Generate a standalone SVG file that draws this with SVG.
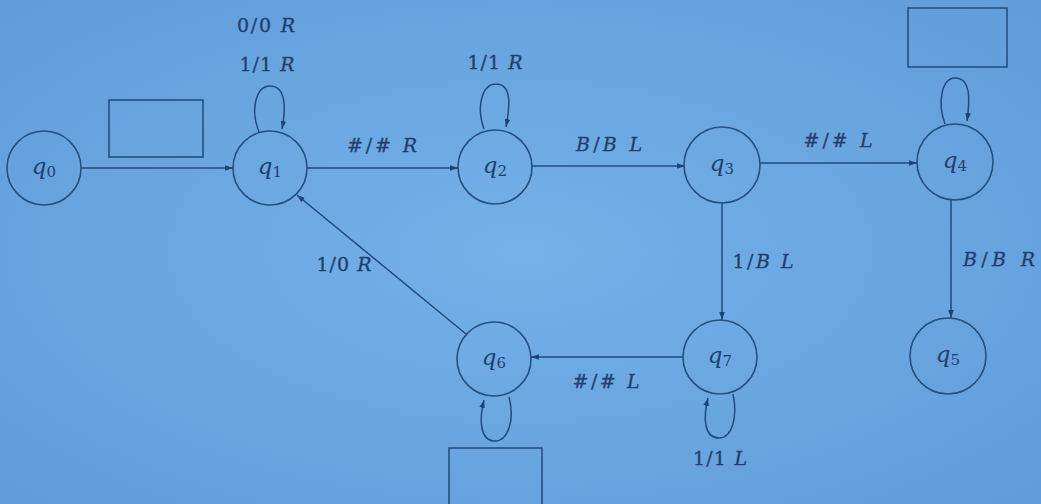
<svg xmlns="http://www.w3.org/2000/svg" width="1041" height="504" viewBox="0 0 1041 504">
<defs>
<radialGradient id="bg" cx="0.5" cy="0.5" r="0.75">
<stop offset="0" stop-color="#74b1e9"/>
<stop offset="1" stop-color="#5f9cd8"/>
</radialGradient>
<marker id="ah" viewBox="0 0 10 10" refX="10" refY="5" markerWidth="8" markerHeight="8" markerUnits="userSpaceOnUse" orient="auto">
<path d="M0,1.5 L10,5 L0,8.5 Z" fill="#1d4478"/>
</marker>
<style>
.st{fill:none;stroke:#24507f;stroke-width:1.6}
.ed{fill:none;stroke:#1f4a7e;stroke-width:1.5;marker-end:url(#ah)}
.bx{fill:none;stroke:#24507f;stroke-width:1.6}
.nl{font-family:"DejaVu Serif","Liberation Serif",serif;font-style:italic;font-size:23px;fill:#1f3f70;text-anchor:middle}
.nl tspan.s{font-style:normal;font-size:15px}
.lb{font-family:"DejaVu Serif","Liberation Serif",serif;font-size:19px;fill:#1f3f70;stroke:#1f3f70;stroke-width:0.3;text-anchor:middle}
.lb tspan.i{font-style:italic}
</style>
</defs>
<rect width="1041" height="504" fill="url(#bg)"/>
<g id="connectors">
<line class="ed" x1="81" y1="168" x2="233" y2="168"/>
<line class="ed" x1="307" y1="168" x2="458" y2="168"/>
<line class="ed" x1="532" y1="166" x2="685" y2="166"/>
<line class="ed" x1="760" y1="163" x2="917" y2="163"/>
<line class="ed" x1="722" y1="203" x2="722" y2="320"/>
<line class="ed" x1="951" y1="200" x2="951" y2="318"/>
<line class="ed" x1="683" y1="357" x2="531" y2="357"/>
<line class="ed" x1="466" y1="334" x2="297" y2="195"/>
<path class="ed" d="M259,132 C250,110 256,86 270,86 C286,86 286,108 282,129"/>
<path class="ed" d="M484,129 C476,107 482,84 496,84 C512,84 510,106 506,127"/>
<path class="ed" d="M945,124 C937,102 942,78 955,78 C971,78 970,100 967,121"/>
<path class="ed" d="M509,397 C515,420 508,441 495,441 C480,441 479,420 484,400"/>
<path class="ed" d="M733,394 C738,417 732,438 719,438 C704,438 703,418 708,398"/>
<text class="lb" x="266" y="32" textLength="58" lengthAdjust="spacing">0/0 <tspan class="i">R</tspan></text>
<text class="lb" x="267" y="71" textLength="55" lengthAdjust="spacing">1/1 <tspan class="i">R</tspan></text>
<text class="lb" x="382" y="152" textLength="70" lengthAdjust="spacing">#/# <tspan class="i">R</tspan></text>
<text class="lb" x="495" y="69" textLength="55" lengthAdjust="spacing">1/1 <tspan class="i">R</tspan></text>
<text class="lb" x="609" y="151" textLength="66" lengthAdjust="spacing"><tspan class="i">B</tspan>/<tspan class="i">B L</tspan></text>
<text class="lb" x="838" y="147" textLength="69" lengthAdjust="spacing">#/# <tspan class="i">L</tspan></text>
<text class="lb" x="763" y="268" textLength="61" lengthAdjust="spacing">1/<tspan class="i">B L</tspan></text>
<text class="lb" x="999" y="266" textLength="72" lengthAdjust="spacing"><tspan class="i">B</tspan>/<tspan class="i">B R</tspan></text>
<text class="lb" x="344" y="271" textLength="55" lengthAdjust="spacing">1/0 <tspan class="i">R</tspan></text>
<text class="lb" x="606" y="388" textLength="67" lengthAdjust="spacing">#/# <tspan class="i">L</tspan></text>
<text class="lb" x="720" y="465" textLength="54" lengthAdjust="spacing">1/1 <tspan class="i">L</tspan></text>
<rect class="bx" x="109" y="100" width="94" height="57"/>
<rect class="bx" x="908" y="8" width="99" height="59"/>
<rect class="bx" x="449" y="448" width="93" height="60"/>
</g>
<g id="q0"><circle class="st" cx="44" cy="168" r="37"/><text class="nl" x="44" y="174">q<tspan class="s" dy="3">0</tspan></text></g>
<g id="q1"><circle class="st" cx="270" cy="168" r="37"/><text class="nl" x="270" y="174">q<tspan class="s" dy="3">1</tspan></text></g>
<g id="q2"><circle class="st" cx="495" cy="167" r="37"/><text class="nl" x="495" y="173">q<tspan class="s" dy="3">2</tspan></text></g>
<g id="q3"><circle class="st" cx="722" cy="165" r="38"/><text class="nl" x="722" y="171">q<tspan class="s" dy="3">3</tspan></text></g>
<g id="q4"><circle class="st" cx="955" cy="162" r="38"/><text class="nl" x="955" y="168">q<tspan class="s" dy="3">4</tspan></text></g>
<g id="q5"><circle class="st" cx="948" cy="356" r="38"/><text class="nl" x="948" y="362">q<tspan class="s" dy="3">5</tspan></text></g>
<g id="q6"><circle class="st" cx="494" cy="359" r="37"/><text class="nl" x="494" y="365">q<tspan class="s" dy="3">6</tspan></text></g>
<g id="q7"><circle class="st" cx="720" cy="357" r="37"/><text class="nl" x="720" y="363">q<tspan class="s" dy="3">7</tspan></text></g>
</svg>
